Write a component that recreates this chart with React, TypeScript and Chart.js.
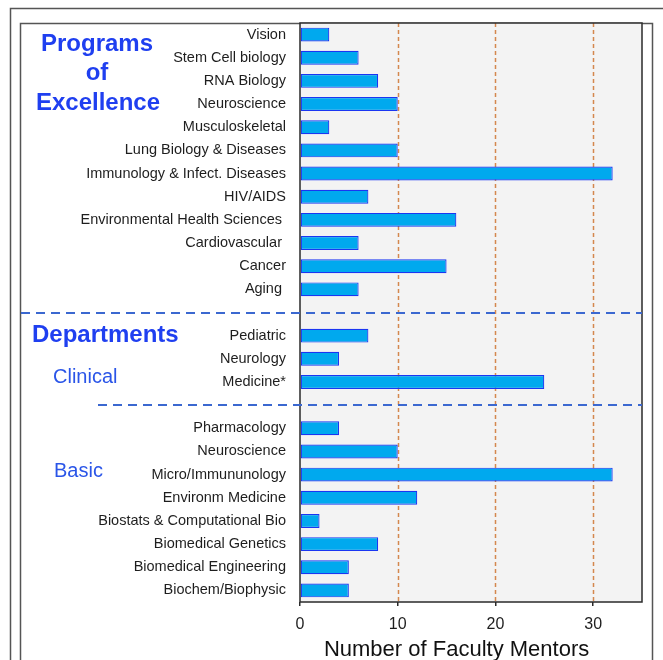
import React, { useEffect, useRef } from "react";
import { Chart, registerables } from "chart.js";

Chart.register(...registerables);

const programLabels = [
  "Vision",
  "Stem Cell biology",
  "RNA Biology",
  "Neuroscience",
  "Musculoskeletal",
  "Lung Biology & Diseases",
  "Immunology & Infect. Diseases",
  "HIV/AIDS",
  "Environmental Health Sciences ",
  "Cardiovascular ",
  "Cancer",
  "Aging ",
];
const programValues = [3, 6, 8, 10, 3, 10, 32, 7, 16, 6, 15, 6];

const clinicalLabels = ["Pediatric", "Neurology", "Medicine*"];
const clinicalValues = [7, 4, 25];

const basicLabels = [
  "Pharmacology",
  "Neuroscience",
  "Micro/Immununology",
  "Environm Medicine",
  "Biostats & Computational Bio",
  "Biomedical Genetics",
  "Biomedical Engineering",
  "Biochem/Biophysic",
];
const basicValues = [4, 10, 32, 12, 2, 8, 5, 5];

const xTickValues = [0, 10, 20, 30];
const xMax = 35;
const xTitle = "Number of Faculty Mentors";

const FONT = "'Liberation Sans', Arial, Helvetica, sans-serif";

export default function App() {
  const ref = useRef<HTMLCanvasElement | null>(null);

  useEffect(() => {
    document.body.style.margin = "0";
    const canvas = ref.current;
    if (!canvas) return;

    const labels = [...programLabels, "", ...clinicalLabels, "", ...basicLabels];
    const values: (number | null)[] = [
      ...programValues,
      null,
      ...clinicalValues,
      null,
      ...basicValues,
    ];
    const sep1 = programLabels.length;
    const sep2 = programLabels.length + 1 + clinicalLabels.length;

    const decor = {
      id: "decor",
      beforeDraw(chart: any) {
        const ctx = chart.ctx;
        const { left, right, top, bottom } = chart.chartArea;
        const W = chart.width;
        const H = chart.height;
        ctx.save();
        ctx.fillStyle = "#ffffff";
        ctx.fillRect(0, 0, W, H);
        // outer frames
        ctx.strokeStyle = "#555555";
        ctx.lineWidth = 1.5;
        ctx.beginPath();
        ctx.moveTo(10.5, H);
        ctx.lineTo(10.5, 8.5);
        ctx.lineTo(W, 8.5);
        ctx.stroke();
        ctx.beginPath();
        ctx.moveTo(20.5, H);
        ctx.lineTo(20.5, top + 0.5);
        ctx.lineTo(652.5, top + 0.5);
        ctx.lineTo(652.5, H);
        ctx.stroke();
        // plot background
        ctx.fillStyle = "#f3f3f3";
        ctx.fillRect(left, top, right - left, bottom - top);
        // dashed grid lines
        const xs = chart.scales.x;
        ctx.strokeStyle = "#d4874e";
        ctx.lineWidth = 1.5;
        ctx.setLineDash([4, 3]);
        xTickValues.forEach((v) => {
          if (v === 0) return;
          const px = Math.round(xs.getPixelForValue(v)) + 0.5;
          ctx.beginPath();
          ctx.moveTo(px, top);
          ctx.lineTo(px, bottom);
          ctx.stroke();
        });
        ctx.restore();
      },
      afterDatasetsDraw(chart: any) {
        const ctx = chart.ctx;
        const { left, right, top, bottom } = chart.chartArea;
        const ys = chart.scales.y;
        const xs = chart.scales.x;
        ctx.save();
        // plot border
        ctx.strokeStyle = "#2a2a2a";
        ctx.lineWidth = 1.5;
        ctx.strokeRect(left, top, right - left, bottom - top);
        // separators
        ctx.strokeStyle = "#3b68d0";
        ctx.lineWidth = 2;
        ctx.setLineDash([9, 6]);
        const y1 = Math.round(ys.getPixelForValue(sep1));
        ctx.beginPath();
        ctx.moveTo(21, y1);
        ctx.lineTo(right, y1);
        ctx.stroke();
        const y2 = Math.round(ys.getPixelForValue(sep2));
        ctx.beginPath();
        ctx.moveTo(98, y2);
        ctx.lineTo(right, y2);
        ctx.stroke();
        ctx.setLineDash([]);
        // headings
        ctx.fillStyle = "#1f3ff0";
        ctx.font = `bold 24px ${FONT}`;
        ctx.textBaseline = "alphabetic";
        ctx.textAlign = "center";
        ctx.fillText("Programs", 97, 51);
        ctx.fillText("of", 97, 80);
        ctx.fillText("Excellence", 98, 110);
        ctx.textAlign = "left";
        ctx.fillText("Departments", 32, 342);
        ctx.fillStyle = "#2a55e8";
        ctx.font = `20px ${FONT}`;
        ctx.fillText("Clinical", 53, 383);
        ctx.fillText("Basic", 54, 477);
        // x title
        ctx.fillStyle = "#111111";
        ctx.font = `22px ${FONT}`;
        ctx.textAlign = "center";
        const cx = (xs.getPixelForValue(0) + xs.getPixelForValue(30)) / 2 + 10;
        ctx.fillText(xTitle, cx, 656);
        ctx.restore();
      },
    };

    const chart = new Chart(canvas, {
      type: "bar",
      data: {
        labels,
        datasets: [
          {
            data: values,
            backgroundColor: "#00a9ee",
            borderColor: "#1a36f2",
            borderWidth: 1.2,
            borderSkipped: false,
            categoryPercentage: 1,
            barPercentage: 0.6,
          },
        ],
      },
      options: {
        indexAxis: "y",
        responsive: false,
        animation: false,
        devicePixelRatio: 1,
        layout: { padding: { left: 0, right: 21, top: 23, bottom: 0 } },
        plugins: {
          legend: { display: false },
          tooltip: { enabled: false },
          title: { display: false },
        },
        scales: {
          y: {
            type: "category",
            grid: { display: false, drawTicks: false },
            border: { display: false },
            ticks: {
              color: "#1e1e1e",
              padding: 14,
              autoSkip: false,
              font: { family: FONT, size: 14.5 },
            },
            afterFit: (s: any) => {
              s.width = 300;
            },
          },
          x: {
            type: "linear",
            min: 0,
            max: xMax,
            grid: {
              drawOnChartArea: false,
              drawTicks: true,
              tickLength: 4,
              color: "#2a2a2a",
              lineWidth: 1.5,
            },
            border: { display: false },
            ticks: {
              color: "#1e1e1e",
              padding: 9,
              font: { family: FONT, size: 16 },
            },
            afterBuildTicks: (s: any) => {
              s.ticks = xTickValues.map((v) => ({ value: v }));
            },
            afterFit: (s: any) => {
              s.height = 58;
            },
          },
        },
      },
      plugins: [decor],
    } as any);

    return () => chart.destroy();
  }, []);

  return (
    <canvas
      ref={ref}
      width={663}
      height={660}
      style={{ position: "fixed", left: 0, top: 0, width: 663, height: 660 }}
    />
  );
}
